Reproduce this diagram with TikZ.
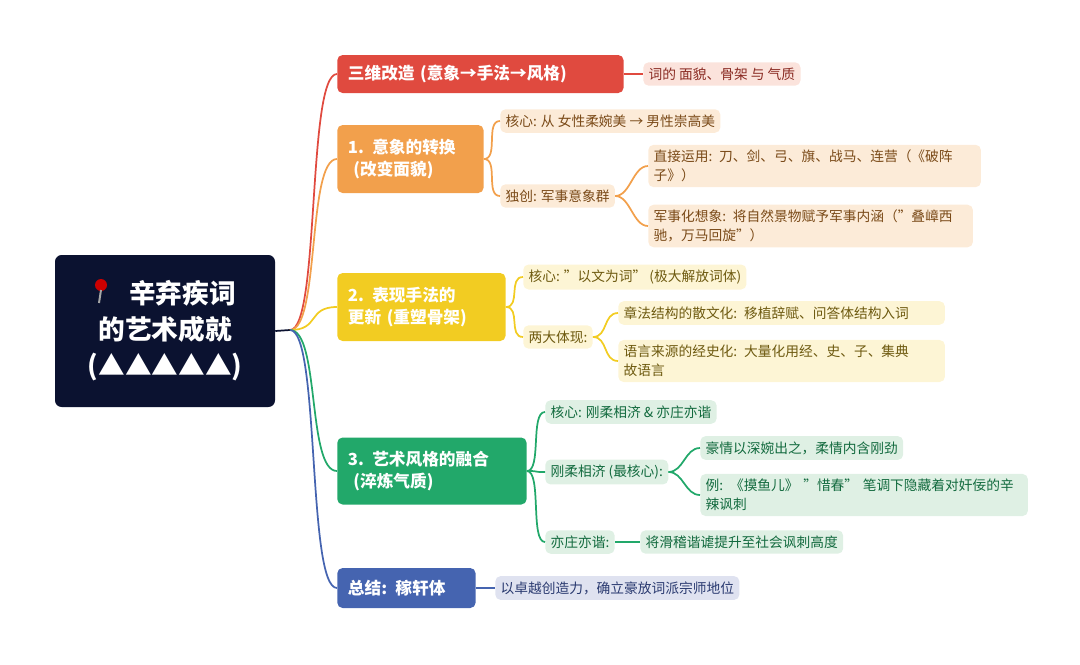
\documentclass[tikz,border=0pt]{standalone}
\usepackage{fontspec}
\setmainfont{Noto Sans CJK SC}
\begin{document}
\begin{tikzpicture}[x=0.75pt,y=-0.75pt,
  br/.style={rounded corners=4pt, anchor=west, text=white, font=\fontsize{12.5}{16}\selectfont\bfseries, align=left, inner xsep=8pt},
  lf/.style={rounded corners=4pt, anchor=west, inner xsep=4pt, inner ysep=4pt, font=\fontsize{10.3}{14}\selectfont, align=left},
  cn/.style={line width=1.3pt}]
\definecolor{cR}{HTML}{E04A3F}\definecolor{cRl}{HTML}{FBE3DC}\definecolor{cRt}{HTML}{8A2A22}
\definecolor{cO}{HTML}{F2A04C}\definecolor{cOl}{HTML}{FCEBD8}\definecolor{cOt}{HTML}{7A4A18}
\definecolor{cY}{HTML}{F2CC22}\definecolor{cYl}{HTML}{FDF5D5}\definecolor{cYt}{HTML}{6E5A10}
\definecolor{cG}{HTML}{22A86A}\definecolor{cGl}{HTML}{DFF0E4}\definecolor{cGt}{HTML}{126A3E}
\definecolor{cB}{HTML}{4564B0}\definecolor{cBl}{HTML}{DFE2F0}\definecolor{cBt}{HTML}{2A3A70}
\definecolor{navy}{HTML}{0B1230}
\useasboundingbox (0,0) rectangle (1080,664);
% root
\node[fill=navy, rounded corners=5pt, minimum width=220*0.75pt, minimum height=152*0.75pt, text=white, font=\fontsize{20}{27}\selectfont\bfseries, align=center] (root) at (165,331) {\phantom{XX}辛弃疾词\\的艺术成就\\(▲▲▲▲▲)};
\fill[red!80!black] (101,285) circle (6);
\draw[line width=1.5pt, gray!70] (101,290) -- (99,303);
\coordinate (r) at (290,330);
\draw[cn,navy] (root.east) -- (r);
% branches
\node[br, fill=cR, minimum height=38*0.75pt, text width=265*0.75pt] (b0) at (337,74) {三维改造 (意象→手法→风格)};
\node[br, fill=cO, minimum height=68*0.75pt, text width=125*0.75pt] (b1) at (337,159) {1. 意象的转换\\\ (改变面貌)};
\node[br, fill=cY, minimum height=68*0.75pt, text width=147*0.75pt] (b2) at (337,307) {2. 表现手法的\\更新 (重塑骨架)};
\node[br, fill=cG, minimum height=67*0.75pt, text width=168*0.75pt] (b3) at (337,471) {3. 艺术风格的融合\\\ (淬炼气质)};
\node[br, fill=cB, minimum height=40*0.75pt, text width=117*0.75pt] (b4) at (337,588) {总结: 稼轩体};
\foreach \b/\c in {b0/cR,b1/cO,b2/cY,b3/cG,b4/cB}
  \draw[cn,\c] (r) .. controls +(30,0) and +(-30,0) .. (\b.west);
% leaves red
\node[lf, fill=cRl, text=cRt] (l0) at (643,74) {词的 面貌、骨架 与 气质};
\draw[cn,cR] (b0.east) -- (l0.west);
% orange
\node[lf, fill=cOl, text=cOt] (o1) at (500,121) {核心: 从 女性柔婉美 → 男性崇高美};
\node[lf, fill=cOl, text=cOt] (o2) at (500,196) {独创: 军事意象群};
\node[lf, fill=cOl, text=cOt, text width=322*0.75pt] (o3) at (648,166) {直接运用: 刀、剑、弓、旗、战马、连营（《破阵\\子》）};
\node[lf, fill=cOl, text=cOt, text width=314*0.75pt] (o4) at (648,226) {军事化想象: 将自然景物赋予军事内涵（"叠嶂西\\驰，万马回旋"）};
\foreach \n in {o1,o2} \draw[cn,cO] (b1.east) .. controls +(15,0) and +(-15,0) .. (\n.west);
\foreach \n in {o3,o4} \draw[cn,cO] (o2.east) .. controls +(15,0) and +(-15,0) .. (\n.west);
% yellow
\node[lf, fill=cYl, text=cYt] (y1) at (523,277) {核心: "以文为词" (极大解放词体)};
\node[lf, fill=cYl, text=cYt] (y2) at (523,337) {两大体现:};
\node[lf, fill=cYl, text=cYt, text width=316*0.75pt] (y3) at (618,313) {章法结构的散文化: 移植辞赋、问答体结构入词};
\node[lf, fill=cYl, text=cYt, text width=316*0.75pt] (y4) at (618,361) {语言来源的经史化: 大量化用经、史、子、集典\\故语言};
\foreach \n in {y1,y2} \draw[cn,cY] (b2.east) .. controls +(15,0) and +(-15,0) .. (\n.west);
\foreach \n in {y3,y4} \draw[cn,cY] (y2.east) .. controls +(15,0) and +(-15,0) .. (\n.west);
% green
\node[lf, fill=cGl, text=cGt] (g1) at (545,412) {核心: 刚柔相济 \& 亦庄亦谐};
\node[lf, fill=cGl, text=cGt] (g2) at (545,472) {刚柔相济 (最核心):};
\node[lf, fill=cGl, text=cGt] (g3) at (545,542) {亦庄亦谐:};
\node[lf, fill=cGl, text=cGt] (g4) at (700,448) {豪情以深婉出之，柔情内含刚劲};
\node[lf, fill=cGl, text=cGt, text width=317*0.75pt] (g5) at (700,495) {例: 《摸鱼儿》 "惜春" 笔调下隐藏着对奸佞的辛\\辣讽刺};
\node[lf, fill=cGl, text=cGt] (g6) at (640,542) {将滑稽谐谑提升至社会讽刺高度};
\foreach \n in {g1,g2,g3} \draw[cn,cG] (b3.east) .. controls +(15,0) and +(-15,0) .. (\n.west);
\foreach \n in {g4,g5} \draw[cn,cG] (g2.east) .. controls +(15,0) and +(-15,0) .. (\n.west);
\draw[cn,cG] (g3.east) -- (g6.west);
% blue
\node[lf, fill=cBl, text=cBt] (u1) at (495,588) {以卓越创造力，确立豪放词派宗师地位};
\draw[cn,cB] (b4.east) -- (u1.west);
\end{tikzpicture}
\end{document}
